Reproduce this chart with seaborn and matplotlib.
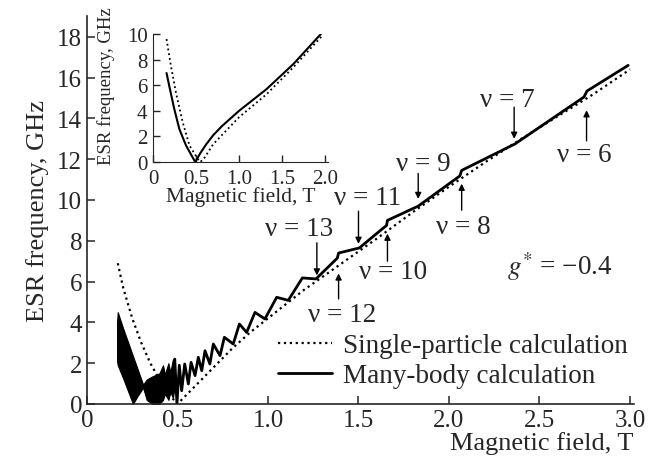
import matplotlib
matplotlib.use("Agg")
import matplotlib.pyplot as plt
import seaborn as sns

# single-particle calculation (dotted)
sp_field = [0.17, 0.20, 0.25, 0.30, 0.35, 0.40, 0.45, 0.50, 0.60, 0.70, 0.80, 0.90, 1.00,
            1.20, 1.40, 1.60, 1.80, 2.00, 2.20, 2.40, 2.60, 2.80, 3.00]
sp_freq = [6.9, 5.7, 4.2, 3.0, 2.0, 1.2, 0.5, 0.0, 0.9, 1.8, 2.7, 3.5, 4.2,
           5.6, 6.85, 8.1, 9.4, 10.65, 11.85, 13.0, 14.1, 15.2, 16.4]

# many-body calculation (solid), resolved part
mb_field = [0.485, 0.497, 0.510, 0.523, 0.540, 0.560, 0.575, 0.597, 0.615, 0.634, 0.652,
            0.679, 0.698, 0.735, 0.759, 0.808, 0.842, 0.882, 0.928, 0.983, 1.048, 1.112,
            1.190, 1.265, 1.383, 1.390, 1.505, 1.620, 1.655, 1.660, 1.830, 2.060, 2.070,
            2.365, 2.746, 2.762, 2.990]
mb_freq = [2.2, 0.0, 1.9, 0.65, 1.96, 0.98, 2.04, 1.39, 2.29, 1.63, 2.61,
           1.96, 2.94, 2.37, 3.27, 2.94, 3.92, 3.51, 4.49, 4.17, 5.23, 5.08,
           6.18, 6.13, 7.15, 7.4, 7.65, 8.5, 8.75, 9.0, 9.7, 11.18, 11.45,
           12.75, 15.05, 15.34, 16.6]

# many-body calculation, unresolved fast oscillations at low field (envelope)
dense_field = [0.166, 0.170, 0.200, 0.254, 0.280, 0.310, 0.330, 0.360, 0.400, 0.420,
               0.430, 0.450, 0.460, 0.475, 0.485]
dense_upper = [4.0, 4.5, 3.7, 2.35, 1.7, 0.95, 1.2, 1.35, 1.5, 1.9,
               1.45, 2.0, 1.55, 2.2, 1.8]
dense_lower = [2.1, 1.9, 1.25, 0.0, 0.4, 0.8, 0.2, 0.0, 0.0, 0.2,
               0.5, 0.2, 0.6, 0.3, 0.9]

# inset
in_sp_field = [0.157, 0.208, 0.267, 0.345, 0.424, 0.52, 0.55, 0.60, 0.70, 1.00, 1.32, 1.63, 1.97]
in_sp_freq = [9.6, 7.5, 5.4, 3.1, 1.28, 0.25, 0.0, 0.35, 1.4, 3.5, 5.3, 7.4, 9.9]
in_mb_field = [0.157, 0.188, 0.247, 0.306, 0.384, 0.482, 0.49, 0.55, 0.62, 0.70, 0.80, 0.90,
               1.00, 1.32, 1.63, 1.95]
in_mb_freq = [6.95, 5.96, 4.14, 2.57, 1.28, 0.1, 0.0, 0.7, 1.4, 2.1, 2.8, 3.4,
              4.0, 5.7, 7.65, 10.0]

# filling-factor markers
nu_values = [13, 11, 9, 7, 12, 10, 8, 6]
nu_field = [1.27, 1.50, 1.83, 2.36, 1.39, 1.66, 2.07, 2.76]
nu_tail = [7.9, 9.45, 11.3, 14.55, 5.15, 7.0, 9.5, 12.9]
nu_tip = [6.3, 7.85, 10.05, 13.0, 6.4, 8.35, 10.8, 14.4]
nu_text_x = [1.17, 1.55, 1.86, 2.32, 1.41, 1.69, 2.08, 2.75]
nu_text_y = [8.6, 10.1, 11.8, 14.95, 4.4, 6.5, 8.7, 12.25]

sns.set_style("ticks")
plt.rcParams["font.family"] = ["Liberation Serif", "DejaVu Serif"]
plt.rcParams["mathtext.fontset"] = "stix"
plt.rcParams["xtick.direction"] = "in"
plt.rcParams["ytick.direction"] = "in"

fig = plt.figure(figsize=(6.57, 4.64), dpi=100)
ax = fig.add_axes([0.1324, 0.1272, 0.832, 0.8353])

ax.fill_between(dense_field, dense_lower, dense_upper, color="black", lw=0.8)
sns.lineplot(x=sp_field, y=sp_freq, ax=ax, color="black", lw=1.6, linestyle=":",
             estimator=None, sort=False, label="Single-particle calculation")
sns.lineplot(x=mb_field, y=mb_freq, ax=ax, color="black", lw=2.0,
             estimator=None, sort=False, label="Many-body calculation")

for nu, bx, t0, t1, tx, ty in zip(nu_values, nu_field, nu_tail, nu_tip, nu_text_x, nu_text_y):
    ax.annotate("", xy=(bx, t1), xytext=(bx, t0),
                arrowprops=dict(arrowstyle="-|>", color="black", lw=1.0, mutation_scale=9,
                                shrinkA=0, shrinkB=0))
    ax.text(tx, ty, f"ν = {nu}", fontsize=19.5, ha="center", va="center")

ax.text(2.61, 6.8, "$g^{*}$ = −0.4", fontsize=19.5, ha="center", va="center")

ax.set_xlim(0, 3.02)
ax.set_ylim(0, 19)
ax.set_xticks([0, 0.5, 1.0, 1.5, 2.0, 2.5, 3.0])
ax.set_xticklabels(["0", "0.5", "1.0", "1.5", "2.0", "2.5", "3.0"])
ax.set_yticks(range(0, 19, 2))
ax.tick_params(labelsize=18, length=6, width=1.1)
ax.set_xlabel("Magnetic field, T", fontsize=19, loc="right", labelpad=0)
ax.set_ylabel("ESR frequency, GHz", fontsize=19, labelpad=6)
sns.despine(ax=ax)
for s in ax.spines.values():
    s.set_linewidth(1.2)

ax.legend(loc="upper left", bbox_to_anchor=(0.349, 0.182), frameon=False, fontsize=19.5,
          handlelength=2.0, handletextpad=0.4, borderpad=0, borderaxespad=0,
          labelspacing=0.18)

# inset
ins = fig.add_axes([0.2329, 0.6487, 0.266, 0.2759])
sns.lineplot(x=in_sp_field, y=in_sp_freq, ax=ins, color="black", lw=1.3, linestyle=":",
             estimator=None, sort=False)
sns.lineplot(x=in_mb_field, y=in_mb_freq, ax=ins, color="black", lw=1.5,
             estimator=None, sort=False)
ins.set_xlim(0, 2.03)
ins.set_ylim(0, 10)
ins.set_xticks([0, 0.5, 1.0, 1.5, 2.0])
ins.set_xticklabels(["0", "0.5", "1.0", "1.5", "2.0"])
ins.set_yticks(range(0, 11, 2))
ins.tick_params(axis="x", labelsize=15, length=5, width=1.0, pad=5)
ins.tick_params(axis="y", labelsize=15, length=5, width=1.0, pad=4)
ins.set_xlabel("Magnetic field, T", fontsize=15.5, labelpad=-1)
ins.set_ylabel("ESR frequency, GHz", fontsize=13.5)
ins.yaxis.set_label_coords(-0.215, 0.6)
ins.patch.set_alpha(0)
sns.despine(ax=ins)

fig.savefig("out.png", dpi=100)
